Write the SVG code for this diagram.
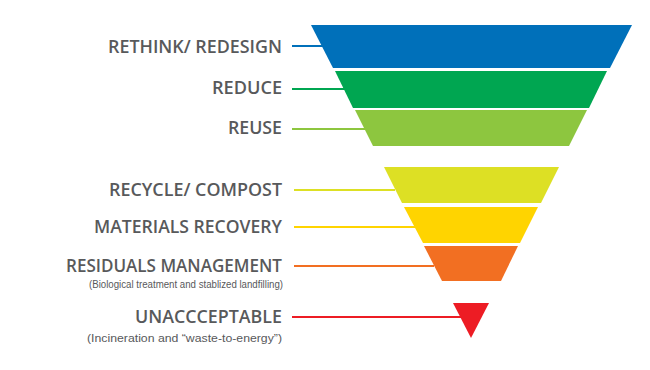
<svg xmlns="http://www.w3.org/2000/svg" width="650" height="370" viewBox="0 0 650 370">
<style>
.t{font-family:"Open Sans","Liberation Sans",sans-serif;font-weight:600;font-size:18.5px;fill:#58595b;text-anchor:end}
.s{font-family:"Liberation Sans",Arial,sans-serif;font-weight:400;font-size:11.5px;fill:#58595b;text-anchor:end}
.c{stroke-width:2;fill:none}
</style>
<rect width="650" height="370" fill="#ffffff"/>
<g id="connectors">
<line class="c" x1="292" y1="46" x2="325" y2="46" stroke="#0070ba"/>
<line class="c" x1="292" y1="89" x2="345" y2="89" stroke="#00a651"/>
<line class="c" x1="292" y1="129" x2="365" y2="129" stroke="#8dc63f"/>
<line class="c" x1="294" y1="190" x2="395" y2="190" stroke="#dde024"/>
<line class="c" x1="294" y1="227" x2="415" y2="227" stroke="#ffd400"/>
<line class="c" x1="294" y1="266" x2="434" y2="266" stroke="#f26f22"/>
<line class="c" x1="292" y1="317" x2="465" y2="317" stroke="#ed1c24"/>
</g>
<g id="rethink">
<polygon points="311,25 632,25 610,68 333,68" fill="#0070ba"/>
<text class="t" x="282" y="53" textLength="174" lengthAdjust="spacingAndGlyphs">RETHINK/ REDESIGN</text>
</g>
<g id="reduce">
<polygon points="335,71 607,71 589,108 353,108" fill="#00a651"/>
<text class="t" x="282" y="94" textLength="70" lengthAdjust="spacingAndGlyphs">REDUCE</text>
</g>
<g id="reuse">
<polygon points="355,110 587,110 569,146 373,146" fill="#8dc63f"/>
<text class="t" x="282" y="134" textLength="54" lengthAdjust="spacingAndGlyphs">REUSE</text>
</g>
<g id="recycle">
<polygon points="384,167 559,167 541,203 402,203" fill="#dde024"/>
<text class="t" x="282" y="196" textLength="173" lengthAdjust="spacingAndGlyphs">RECYCLE/ COMPOST</text>
</g>
<g id="materials">
<polygon points="404,207 538,207 520,243 423,243" fill="#ffd400"/>
<text class="t" x="282" y="233" textLength="188" lengthAdjust="spacingAndGlyphs">MATERIALS RECOVERY</text>
</g>
<g id="residuals">
<polygon points="424,246 518,246 501,281 442,281" fill="#f26f22"/>
<text class="t" x="282" y="272" textLength="216" lengthAdjust="spacingAndGlyphs">RESIDUALS MANAGEMENT</text>
<text class="s" x="283" y="288" textLength="194" lengthAdjust="spacingAndGlyphs">(Biological treatment and stablized landfilling)</text>
</g>
<g id="unacceptable">
<polygon points="453,303 489,303 471,338" fill="#ed1c24"/>
<text class="t" x="282" y="323" textLength="147" lengthAdjust="spacingAndGlyphs">UNACCCEPTABLE</text>
<text class="s" x="282" y="342" textLength="195" lengthAdjust="spacingAndGlyphs">(Incineration and “waste-to-energy”)</text>
</g>
</svg>
